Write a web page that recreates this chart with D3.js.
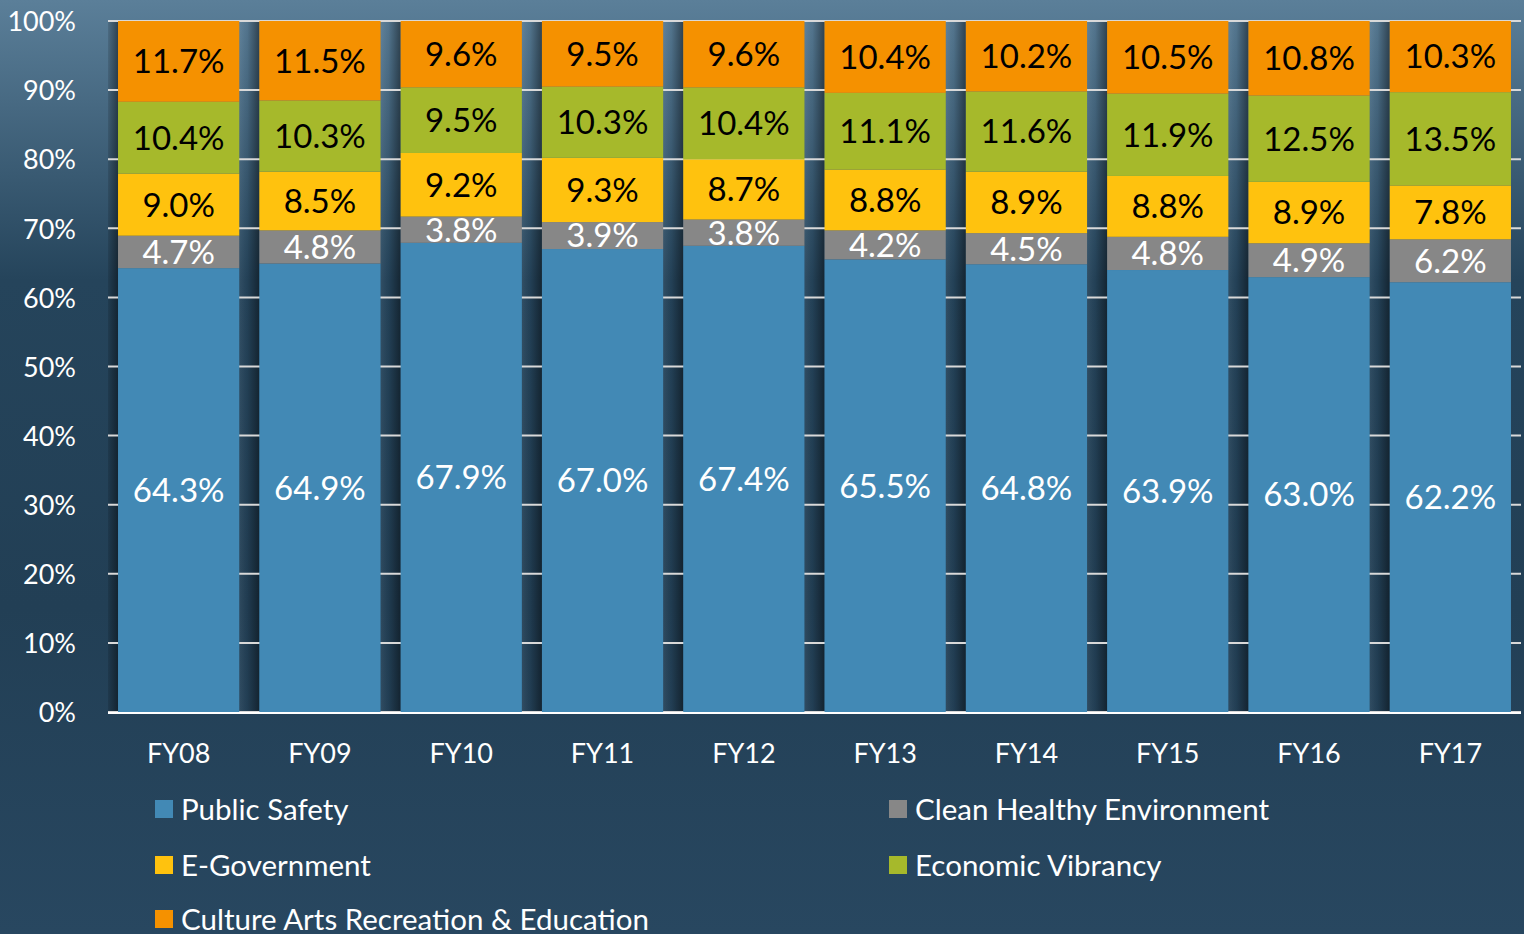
<!DOCTYPE html>
<html>
<head>
<meta charset="utf-8">
<script src="https://cdn.jsdelivr.net/npm/d3@7"></script>
<style>
  html, body { margin: 0; padding: 0; background: #284760; }
  svg { display: block; font-family: Lato, "Open Sans", sans-serif; }
</style>
</head>
<body>
<svg id="chart" width="1524" height="934"></svg>
<script>
'use strict';

var years = ["FY08", "FY09", "FY10", "FY11", "FY12", "FY13", "FY14", "FY15", "FY16", "FY17"];
var publicSafety = [64.3, 64.9, 67.9, 67.0, 67.4, 65.5, 64.8, 63.9, 63.0, 62.2];
var cleanEnvironment = [4.7, 4.8, 3.8, 3.9, 3.8, 4.2, 4.5, 4.8, 4.9, 6.2];
var eGovernment = [9.0, 8.5, 9.2, 9.3, 8.7, 8.8, 8.9, 8.8, 8.9, 7.8];
var economicVibrancy = [10.4, 10.3, 9.5, 10.3, 10.4, 11.1, 11.6, 11.9, 12.5, 13.5];
var cultureArts = [11.7, 11.5, 9.6, 9.5, 9.6, 10.4, 10.2, 10.5, 10.8, 10.3];
var seriesNames = ["Public Safety", "Clean Healthy Environment", "E-Government", "Economic Vibrancy", "Culture Arts Recreation & Education"];
var yTicks = [0, 0.1, 0.2, 0.3, 0.4, 0.5, 0.6, 0.7, 0.8, 0.9, 1];

var seriesValues = [publicSafety, cleanEnvironment, eGovernment, economicVibrancy, cultureArts];
var colors = ["#4289b5", "#878787", "#ffc20e", "#a6b92b", "#f59100"];
var labelColors = ["#ffffff", "#ffffff", "#000000", "#000000", "#000000"];

var svg = d3.select("#chart");
var W = 1524, H = 934;
var margin = {left: 108, right: 3, top: 21, bottom: 222};

// background
var defs = svg.append("defs");
var bg = defs.append("linearGradient").attr("id", "bg").attr("x1", 0).attr("x2", 0).attr("y1", 0).attr("y2", 1);
bg.append("stop").attr("offset", "0").attr("stop-color", "#5b7f99");
bg.append("stop").attr("offset", "0.3").attr("stop-color", "#25445b");
bg.append("stop").attr("offset", "0.65").attr("stop-color", "#223f55");
bg.append("stop").attr("offset", "1").attr("stop-color", "#284760");
svg.append("rect").attr("width", W).attr("height", H).attr("fill", "url(#bg)");

var shade = defs.append("linearGradient").attr("id", "shade").attr("x1", 0).attr("x2", 1).attr("y1", 0).attr("y2", 0);
shade.append("stop").attr("offset", "0").attr("stop-color", "#ffffff").attr("stop-opacity", 0.06);
shade.append("stop").attr("offset", "0.4").attr("stop-color", "#000000").attr("stop-opacity", 0.05);
shade.append("stop").attr("offset", "1").attr("stop-color", "#000000").attr("stop-opacity", 0.45);

var table = years.map(function(y, i) {
    var row = {year: y};
    seriesNames.forEach(function(s, k) { row[s] = seriesValues[k][i]; });
    return row;
});

var stack = d3.stack().keys(seriesNames).offset(d3.stackOffsetExpand);
var layers = stack(table);

var x = d3.scaleBand().domain(years)
    .range([margin.left, W - margin.right])
    .paddingInner(0.142).paddingOuter(0.071);
var y = d3.scaleLinear().domain([0, 1]).range([H - margin.bottom, margin.top]);

var gapW = x.step() - x.bandwidth();

defs.append("clipPath").attr("id", "plotClip")
    .append("rect").attr("x", margin.left).attr("y", 0).attr("width", W).attr("height", H);

// shadows left of bars
svg.append("g").attr("clip-path", "url(#plotClip)").selectAll("rect")
    .data(years)
    .enter().append("rect")
    .attr("x", function(d) { return x(d) - gapW; })
    .attr("y", y(1))
    .attr("width", gapW)
    .attr("height", y(0) - y(1))
    .attr("fill", "url(#shade)");

// gridlines
svg.append("g").selectAll("line")
    .data(yTicks)
    .enter().append("line")
    .attr("x1", margin.left).attr("x2", W - margin.right)
    .attr("y1", function(d) { return y(d); })
    .attr("y2", function(d) { return y(d); })
    .attr("stroke", "#d9d9d9")
    .attr("stroke-width", 2);

// bars
var layerG = svg.append("g").selectAll("g")
    .data(layers)
    .enter().append("g")
    .attr("fill", function(d, i) { return colors[i]; });

layerG.selectAll("rect")
    .data(function(d) { return d; })
    .enter().append("rect")
    .attr("x", function(d) { return x(d.data.year); })
    .attr("y", function(d) { return y(d[1]); })
    .attr("width", x.bandwidth())
    .attr("height", function(d) { return y(d[0]) - y(d[1]); });

// labels
layerG.each(function(layer, i) {
    d3.select(this).selectAll("text")
        .data(layer)
        .enter().append("text")
        .attr("x", function(d) { return x(d.data.year) + x.bandwidth() / 2; })
        .attr("y", function(d) { return y((d[0] + d[1]) / 2); })
        .attr("dy", "0.36em")
        .attr("text-anchor", "middle")
        .style("font-size", "33px")
        .style("fill", labelColors[i])
        .text(function(d) { return d.data[layer.key].toFixed(1) + "%"; });
});

// axis line
svg.append("line")
    .attr("x1", margin.left).attr("x2", W - margin.right)
    .attr("y1", y(0) + 1).attr("y2", y(0) + 1)
    .attr("stroke", "#ffffff").attr("stroke-width", 2);

// y axis
var yAxis = svg.append("g")
    .attr("transform", "translate(" + (margin.left - 29) + ",0)")
    .call(d3.axisLeft(y).tickValues(yTicks).tickFormat(d3.format(".0%")).tickSize(0));
yAxis.select(".domain").remove();
yAxis.selectAll("text")
    .style("font-size", "27px")
    .style("font-family", "Lato, 'Open Sans', sans-serif")
    .attr("fill", "#ffffff")
    .attr("dy", "0.36em");

// x axis
var xAxis = svg.append("g")
    .attr("transform", "translate(0," + (y(0) + 41) + ")")
    .call(d3.axisBottom(x).tickSize(0));
xAxis.select(".domain").remove();
xAxis.selectAll("text")
    .style("font-size", "27px")
    .style("font-family", "Lato, 'Open Sans', sans-serif")
    .attr("fill", "#ffffff")
    .attr("y", 0)
    .attr("dy", "0.36em");

// legend
var legendPos = [[155, 809], [889, 809], [155, 865], [889, 865], [155, 919]];
var legend = svg.append("g").selectAll("g")
    .data(seriesNames)
    .enter().append("g")
    .attr("transform", function(d, i) { return "translate(" + legendPos[i][0] + "," + legendPos[i][1] + ")"; });
legend.append("rect")
    .attr("x", 0).attr("y", -9)
    .attr("width", 18).attr("height", 18)
    .attr("fill", function(d, i) { return colors[i]; });
legend.append("text")
    .attr("x", 26).attr("dy", "0.36em")
    .style("font-size", "29.5px")
    .style("fill", "#ffffff")
    .text(function(d) { return d; });
</script>
</body>
</html>
